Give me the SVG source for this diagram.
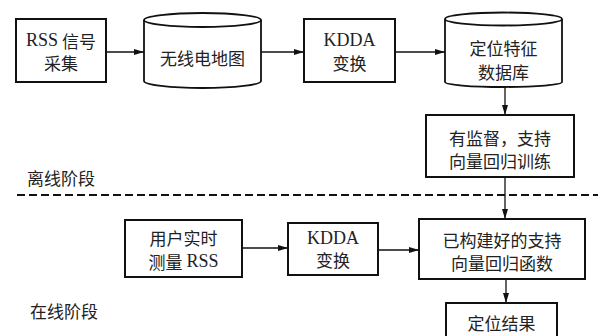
<svg xmlns="http://www.w3.org/2000/svg" width="598" height="336" viewBox="0 0 598 336">
  <defs>
    <marker id="arrow" viewBox="0 0 10 6" refX="10" refY="3" markerWidth="10" markerHeight="6" markerUnits="userSpaceOnUse" orient="auto">
      <path d="M0,0 L10,3 L0,6 Z" fill="#111"/>
    </marker>
  </defs>
  <style>
    .box { fill: #fff; stroke: #111; stroke-width: 2; }
    .cyl { fill: #fff; stroke: #111; stroke-width: 1.8; }
    .edge { fill: none; stroke: #111; stroke-width: 1.3; marker-end: url(#arrow); }
    .t { font-family: "Noto Sans CJK SC", sans-serif; font-size: 17px; fill: #222; text-anchor: middle; dominant-baseline: central; }
    .lbl { font-family: "Noto Sans CJK SC", sans-serif; font-size: 17px; fill: #222; dominant-baseline: central; }
    .lat { font-family: "Liberation Serif", "DejaVu Serif", serif; font-size: 18px; }
  </style>
  <rect width="598" height="336" fill="#fff"/>

  <!-- phase divider -->
  <line x1="17" y1="195" x2="598" y2="195" stroke="#111" stroke-width="2" stroke-dasharray="8,4"/>
  <text class="lbl" x="27" y="177">离线阶段</text>
  <text class="lbl" x="30" y="310">在线阶段</text>

  <g id="connectors">
    <line class="edge" x1="106" y1="52" x2="144" y2="52"/>
    <line class="edge" x1="261" y1="52" x2="304" y2="52"/>
    <line class="edge" x1="395" y1="52" x2="445" y2="52"/>
    <line class="edge" x1="505" y1="87" x2="505" y2="115"/>
    <line class="edge" x1="505" y1="177" x2="505" y2="219"/>
    <line class="edge" x1="242" y1="248" x2="288" y2="248"/>
    <line class="edge" x1="378" y1="250" x2="419" y2="250"/>
    <line class="edge" x1="506" y1="279" x2="506" y2="303"/>
  </g>

  <g id="rss-collect">
    <rect class="box" x="16" y="19" width="90" height="63"/>
    <text class="t" x="61" y="40"><tspan class="lat">RSS</tspan> 信号</text>
    <text class="t" x="61" y="62">采集</text>
  </g>

  <g id="radio-map">
    <path class="cyl" d="M144,20 L144,81 A58.5,7 0 0 0 261,81 L261,20"/>
    <ellipse class="cyl" cx="202.5" cy="20" rx="58.5" ry="7"/>
    <text class="t" x="202.5" y="57">无线电地图</text>
  </g>

  <g id="kdda-offline">
    <rect class="box" x="304" y="19" width="91" height="63"/>
    <text class="t lat" x="349.5" y="40">KDDA</text>
    <text class="t" x="349.5" y="62">变换</text>
  </g>

  <g id="feature-db">
    <path class="cyl" d="M445,19 L445,82 A58.5,5 0 0 0 562,82 L562,19"/>
    <ellipse class="cyl" cx="503.5" cy="19" rx="58.5" ry="6.5"/>
    <text class="t" x="503.5" y="47">定位特征</text>
    <text class="t" x="503.5" y="71">数据库</text>
  </g>

  <g id="svr-training">
    <rect class="box" x="426" y="115" width="148" height="62"/>
    <text class="t" x="500" y="137">有监督，支持</text>
    <text class="t" x="500" y="160">向量回归训练</text>
  </g>

  <g id="realtime-rss">
    <rect class="box" x="125" y="220" width="117" height="57"/>
    <text class="t" x="183.5" y="237">用户实时</text>
    <text class="t" x="183.5" y="261">测量 <tspan class="lat">RSS</tspan></text>
  </g>

  <g id="kdda-online">
    <rect class="box" x="288" y="223" width="90" height="52"/>
    <text class="t lat" x="333" y="238">KDDA</text>
    <text class="t" x="333" y="259">变换</text>
  </g>

  <g id="svr-function">
    <rect class="box" x="419" y="219" width="166" height="60"/>
    <text class="t" x="502" y="239">已构建好的支持</text>
    <text class="t" x="502" y="262">向量回归函数</text>
  </g>

  <g id="result">
    <rect class="box" x="446" y="303" width="111" height="40"/>
    <text class="t" x="501.5" y="322">定位结果</text>
  </g>
</svg>
